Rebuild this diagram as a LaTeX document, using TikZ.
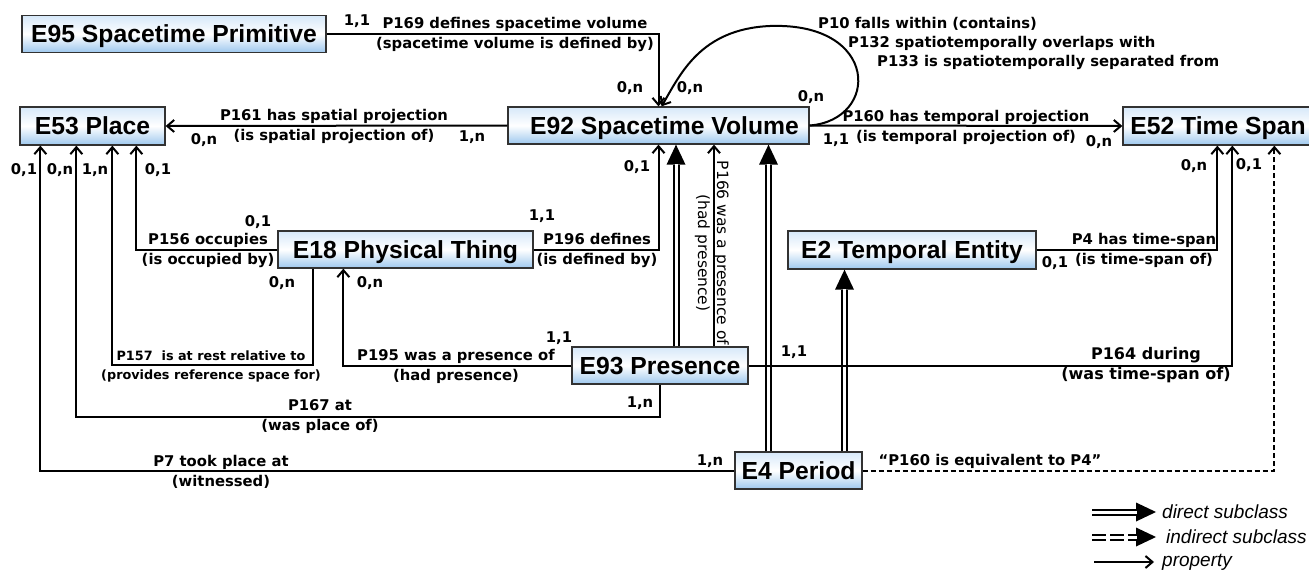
\documentclass[tikz,border=0pt]{standalone}
\usepackage{fontspec}
\newfontfamily\boxfont{Liberation Sans}
\newfontfamily\lblfont{DejaVu Sans}
\usetikzlibrary{arrows.meta}
\definecolor{boxtop}{RGB}{214,232,249}
\definecolor{boxbot}{RGB}{158,200,238}
\definecolor{boxline}{RGB}{50,50,50}

\begin{document}
\begin{tikzpicture}[x=1pt, y=-1pt,
  cls/.style={draw=boxline, line width=1.3pt, top color=boxtop, bottom color=boxbot, middle color=white,
    minimum height=37pt, inner sep=0pt, text height=17.7pt, text depth=0pt,
    font=\boxfont\bfseries\fontsize{24.7}{28}\selectfont},
  prop/.style={line width=2pt, -{Straight Barb[length=7pt, width=12pt]}},
  equiv/.style={prop, dash pattern=on 5pt off 3pt},
  subcl/.style={line width=7pt, -{Triangle[length=20pt, width=19pt, line width=0pt]},
    postaction={draw=white, line width=3pt, -, shorten >=19pt}},
  card/.style={font=\lblfont\bfseries\fontsize{14.8}{18}\selectfont, inner sep=0pt},
  lbl/.style={font=\lblfont\bfseries\fontsize{14.8}{20}\selectfont, align=center, inner sep=0pt},
  legtext/.style={font=\boxfont\itshape\fontsize{19}{22}\selectfont, anchor=west, inner sep=0pt}]
\useasboundingbox (0,0) rectangle (1309,575);

\node[cls, minimum width=304pt] (e95) at (174,34) {E95 Spacetime Primitive};
\node[cls, minimum width=145pt, minimum height=38pt] (e53) at (92.5,126) {E53 Place};
\node[cls, minimum width=301pt] (e92) at (658.5,125.5) {\hspace*{12pt}E92 Spacetime Volume};
\node[cls, minimum width=190pt, minimum height=38pt] (e52) at (1218,126) {E52 Time Span};
\node[cls, minimum width=255pt] (e18) at (405.5,249.5) {E18 Physical Thing};
\node[cls, minimum width=248pt, minimum height=38pt] (e2) at (912,250) {E2 Temporal Entity};
\node[cls, minimum width=176pt] (e93) at (660,365.5) {E93 Presence};
\node[cls, minimum width=127pt] (e4) at (798.5,470.5) {E4 Period};

\coordinate (s93a) at ([xshift=16pt]e93.north);
\coordinate (p166) at ([xshift=54pt]e93.north);
\coordinate (s4a) at ([xshift=-30pt]e4.north);
\coordinate (s4b) at ([xshift=46pt]e4.north);

\draw[subcl] (s93a) -- (s93a |- e92.south);
\draw[subcl] (s4a) -- (s4a |- e92.south);
\draw[subcl] (s4b) -- (s4b |- e2.south);

\draw[prop] (e95.east) -| (e92.north);
\draw[prop] (e92.west) -- (e53.east);
\draw[prop] (e92.east) -- (e52.west);
\draw[prop] (e92.east) .. controls (880,120) and (880,22) .. (770,26)
  .. controls (700,29) and (680,75) .. ([xshift=3pt]e92.north);
\draw[prop] (e4.west) -| ([xshift=21pt]e53.south west);
\draw[prop] (e93.south) -- ++(0,32) -| ([xshift=57pt]e53.south west);
\draw[prop] ([xshift=36pt]e18.south west) -- ++(0,96) -| ([xshift=93pt]e53.south west);
\draw[prop] (e18.west) -| ([xshift=117pt]e53.south west);
\draw[prop] (e93.west) -| ([xshift=66pt]e18.south west);
\draw[prop] (e18.east) -| (e92.south);
\draw[prop] (p166) -- (p166 |- e92.south);
\draw[prop] (e2.east) -| ([xshift=95pt]e52.south west);
\draw[prop] (e93.east) -| ([xshift=110pt]e52.south west);
\draw[equiv] (e4.east) -| ([xshift=152pt]e52.south west);

\node[lbl] (t169) at (515,34) {P169 defines spacetime volume\\(spacetime volume is defined by)};
\node[lbl] (t161) at (334,126) {P161 has spatial projection\\(is spatial projection of)};
\node[lbl] (t160) at (966,127) {P160 has temporal projection\\(is temporal projection of)};
\node[lbl, align=left, anchor=west, font=\lblfont\bfseries\fontsize{14.8}{19}\selectfont] (t10) at (818,43)
  {P10 falls within (contains)\\\hspace*{30pt}P132 spatiotemporally overlaps with\\\hspace*{59pt}P133 is spatiotemporally separated from};
\node[lbl] (t156) at (208,250) {P156 occupies\\(is occupied by)};
\node[lbl] (t196) at (597,250) {P196 defines\\(is defined by)};
\node[lbl, font=\lblfont\bfseries\fontsize{12.8}{19}\selectfont] (t157) at (211,366) {P157\ \ is at rest relative to\\(provides reference space for)};
\node[lbl] (t195) at (456,366) {P195 was a presence of\\(had presence)};
\node[lbl, rotate=-90, font=\lblfont\fontsize{15.5}{19}\selectfont] (t166) at (712,253) {P166 was a presence of\\(had presence)};
\node[lbl] (t167) at (320,417) {P167 at\\(was place of)};
\node[lbl] (t7) at (221,472) {P7 took place at\\(witnessed)};
\node[lbl] (t4) at (1144,250) {P4 has time-span\\(is time-span of)};
\node[lbl, font=\lblfont\bfseries\fontsize{16}{20}\selectfont] (t164) at (1146,365) {P164 during\\(was time-span of)};
\node[lbl] (tq) at (990,461) {“P160 is equivalent to P4”};

\node[card] (c169a) at (357,21) {1,1};
\node[card] (c169b) at (630,88) {0,n};
\node[card] (c10a) at (690,88) {0,n};
\node[card] (c10b) at (811,97) {0,n};
\node[card] (c161a) at (204,140) {0,n};
\node[card] (c161b) at (472,137) {1,n};
\node[card] (c160a) at (836,140) {1,1};
\node[card] (c160b) at (1099,142) {0,n};
\node[card] (c7a) at (24,170) {0,1};
\node[card] (c167a) at (60,170) {0,n};
\node[card] (c157a) at (95,170) {1,n};
\node[card] (c156a) at (158,170) {0,1};
\node[card] (c156b) at (258,222) {0,1};
\node[card] (c157b) at (282,283) {0,n};
\node[card] (c195a) at (370,283) {0,n};
\node[card] (c196a) at (542,216) {1,1};
\node[card] (c196b) at (637,167) {0,1};
\node[card] (c195b) at (559,338) {1,1};
\node[card] (c164a) at (794,352) {1,1};
\node[card] (c167b) at (640,403) {1,n};
\node[card] (c7b) at (710,461) {1,n};
\node[card] (c4a) at (1055,263) {0,1};
\node[card] (c4b) at (1194,166) {0,n};
\node[card] (c164b) at (1249,165) {0,1};

\coordinate (lg1a) at (1092,512);
\coordinate (lg1b) at (1156,512);
\coordinate (lg2a) at (1092,537);
\coordinate (lg2b) at (1156,537);
\coordinate (lg3a) at (1094,562);
\coordinate (lg3b) at (1154,562);
\draw[subcl] (lg1a) -- (lg1b);
\draw[subcl, dash pattern=on 14pt off 4pt] (lg2a) -- (lg2b);
\draw[prop] (lg3a) -- (lg3b);
\node[legtext] (lg1) at (1162,512) {direct subclass};
\node[legtext] (lg2) at (1166,537) {indirect subclass};
\node[legtext] (lg3) at (1162,562) {property};
\end{tikzpicture}
\end{document}
